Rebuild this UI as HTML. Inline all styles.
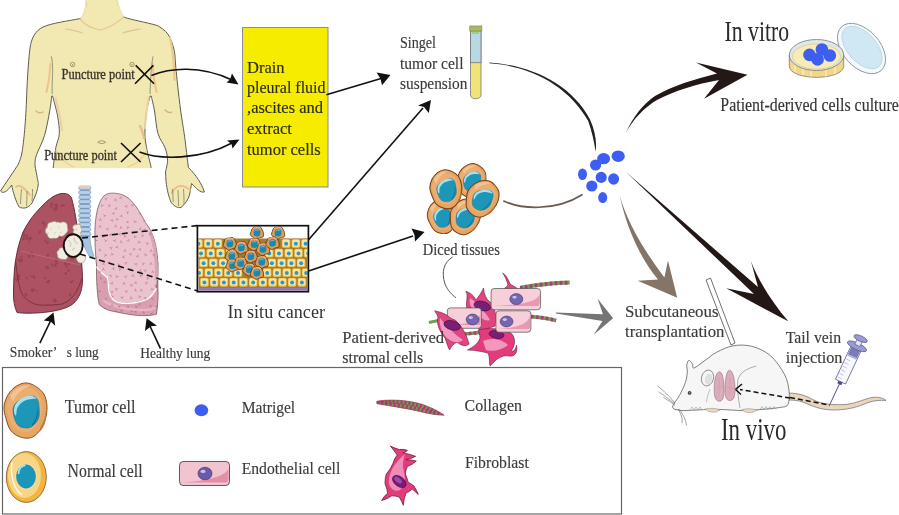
<!DOCTYPE html>
<html><head><meta charset="utf-8"><style>
html,body{margin:0;padding:0;background:#fff;width:899px;height:515px;overflow:hidden}
svg{display:block;will-change:transform}
text{font-family:"Liberation Serif",serif}
g[style*="font-size"]{stroke-width:0.15px}
</style></head><body>
<svg width="899" height="515" viewBox="0 0 899 515">
<defs>
  <marker id="ah" markerWidth="10" markerHeight="10" refX="9" refY="5" orient="auto" markerUnits="userSpaceOnUse">
    <path d="M0,0 L10,5 L0,10 L3,5Z" fill="#111"/>
  </marker>

  <g id="tcell">
    <path d="M0,-26.6 C3.3,-26.5 6.8,-25 9.7,-23.1 C12.7,-21.3 16,-18.7 17.9,-15.4 C19.8,-12.1 20.7,-7.3 21,-3.2 C21.2,0.9 20.6,5.3 19.5,9.2 C18.4,13.1 16.8,17.2 14.4,20.3 C12.1,23.4 8.9,26.8 5.5,28 C2.2,29.2 -2,28.8 -5.5,27.6 C-8.9,26.5 -12.7,24.2 -15.1,21.2 C-17.5,18.2 -18.8,13.5 -19.9,9.4 C-21.1,5.3 -22.4,0.8 -22,-3.3 C-21.6,-7.4 -19.7,-11.8 -17.7,-15.2 C-15.6,-18.5 -12.8,-21.4 -9.8,-23.3 C-6.9,-25.2 -3.3,-26.6 0,-26.6Z" fill="#e7a463" stroke="#7a4418"/>
    <path d="M-1,-22.8 C1.7,-22.7 4.5,-21.5 7,-20 C9.4,-18.4 12.2,-16.3 13.7,-13.6 C15.2,-10.9 16,-7 16.2,-3.6 C16.4,-0.2 15.9,3.3 15,6.6 C14.1,9.8 12.8,13.1 10.8,15.6 C8.9,18.2 6.3,21 3.5,22 C0.8,23 -2.7,22.6 -5.5,21.7 C-8.3,20.7 -11.4,18.9 -13.4,16.4 C-15.4,13.9 -16.4,10.1 -17.3,6.7 C-18.3,3.4 -19.3,-0.4 -19,-3.7 C-18.7,-7.1 -17.1,-10.7 -15.5,-13.4 C-13.8,-16.2 -11.5,-18.6 -9.1,-20.1 C-6.7,-21.7 -3.7,-22.8 -1,-22.8Z" fill="#eaae72"/>
    <path d="M-16,-14 C-12,-21 -4,-25 4,-24 C-4,-20 -10,-16 -13,-8Z" fill="#f4c89a" opacity="0.8"/>
    <path d="M14,18 C18,12 20,6 19,0 C21,8 20,16 14,22Z" fill="#c0783a" opacity="0.7"/>
    <path d="M-5.6,-9.5 C-3,-10.7 2.4,-13.4 5.3,-13.5 C8.2,-13.6 10.2,-12.2 11.5,-10 C12.8,-7.8 13,-3.7 13.2,-0.5 C13.4,2.7 13.6,6.2 12.5,9 C11.4,11.8 8.7,14.9 6.6,16.5 C4.5,18.1 2.1,18.6 -0.2,18.5 C-2.6,18.4 -5.6,17.8 -7.5,16.2 C-9.4,14.6 -10.6,11.8 -11.5,9 C-12.4,6.2 -13.2,2.1 -13,-0.5 C-12.8,-3.1 -11.2,-5 -10,-6.5 C-8.8,-8 -8.2,-8.3 -5.6,-9.5Z" fill="#1e96b8" stroke="#0d6a8a" stroke-width="0.5"/>
    <path d="M6,15 C10,11 12,3 11.5,-4 C13,4 11.5,12 6,16.5Z" fill="#0e6f90"/>
    <path d="M-10.5,-5 C-9.2,-7.2 -7,-9.5 -4.5,-11 C-2,-12.5 2,-13.8 4.5,-13.8 C7,-13.8 10.2,-11.6 10.5,-11 C10.8,-10.4 8.1,-10.9 6,-10.5 C3.9,-10.1 0.4,-9.9 -2,-8.5 C-4.4,-7.1 -7.2,-4.4 -8.5,-2 C-9.8,0.4 -9.4,5.3 -10,6 C-10.6,6.7 -11.9,3.8 -12,2 C-12.1,0.2 -11.8,-2.8 -10.5,-5Z" fill="#a8e0f0"/>
  </g>
  <g id="ycell">
    <rect x="-4.6" y="-4.6" width="9.2" height="9.2" rx="1.8" fill="#f0c24c" stroke="#8a6020" stroke-width="0.4"/>
    <rect x="-3.5" y="-3.7" width="6.8" height="6.9" rx="1.4" fill="#f9e6a6"/>
    <circle cx="0" cy="0.3" r="2" fill="#2a98d0"/>
  </g>
  <g id="scell">
    <path d="M8.1,0 C8.3,1.5 8.6,3.7 7.8,4.8 C7,5.8 4.6,5.8 3.1,6.3 C1.6,6.9 0.2,8.2 -1.2,8.1 C-2.6,8 -4,6.7 -5.2,5.7 C-6.5,4.8 -8.3,3.7 -8.7,2.4 C-9.1,1.1 -8,-0.6 -7.5,-2.1 C-7,-3.5 -6.8,-5.4 -5.7,-6.3 C-4.7,-7.2 -2.7,-7.1 -1.1,-7.3 C0.5,-7.6 2.5,-8.3 3.7,-7.8 C5,-7.2 5.8,-5.3 6.5,-4 C7.3,-2.7 7.9,-1.5 8.1,0Z" fill="#dd9c5a" stroke="#5a3010" stroke-width="1"/>
    <path d="M-5.5,-5.5 C-2,-7.5 2,-7.5 5,-5.5" fill="none" stroke="#f0c090" stroke-width="1.2"/>
    <path d="M-3.5,-4 C-2.8,-4.8 -1.2,-4.9 0,-4.8 C1.2,-4.7 2.8,-4.3 3.5,-3.5 C4.2,-2.7 4.3,-1.2 4.2,0 C4.1,1.2 3.7,2.8 3,3.5 C2.3,4.2 1.1,4.5 0,4.5 C-1.1,4.5 -2.8,4.5 -3.5,3.8 C-4.2,3 -4.5,1.3 -4.5,0 C-4.5,-1.3 -4.2,-3.2 -3.5,-4Z" fill="#1a88b0"/>
    <path d="M-3.2,-2.2 C-2,-3.6 0.5,-3.9 2,-3" fill="none" stroke="#a8e0f0" stroke-width="0.8"/>
  </g>
  <g id="endo">
    <rect x="-25" y="-10.5" width="50" height="21" rx="3.5" fill="#f2c4cf" stroke="#444" stroke-width="0.8"/>
    <path d="M-23,8 L22,8 C23.5,8 24,6 24,4 L24,-6 C24,-3 22,5 -23,8Z" fill="#e48ea8"/>
    <ellipse cx="0.5" cy="0" rx="7" ry="5.5" fill="#6b5aa8" stroke="#3a3070" stroke-width="0.6"/>
    <ellipse cx="-1.5" cy="-1.8" rx="2.5" ry="1.4" fill="#c8c0ee"/>
  </g>
  <g id="fibro">
    <path d="M-9.6,-29.9 Q-4.4,-27.4 -0.7,-26.5 Q2.5,-27.0 7.4,-25.8 Q6.1,-23.7 3.3,-23.1 Q8.7,-22.2 15.6,-19.7 Q11.6,-17.2 6.0,-16.3 Q10.4,-16.5 16.3,-15.0 Q12.6,-11.4 7.4,-9.5 Q5.6,-6.5 5.4,-2.0 Q7.5,2.9 8.1,6.2 Q10.3,7.3 14.0,10.0 Q17.0,15.0 18.3,18.4 Q14.4,14.9 12.2,13.0 Q9.9,15.8 6.0,17.0 Q3.9,22.4 3.3,29.3 Q2.1,26.0 -0.7,21.1 Q-5.2,19.7 -8.2,19.8 Q-12.5,23.0 -18.4,24.5 Q-16.1,20.0 -12.3,17.1 Q-12.9,13.1 -15.0,7.5 Q-15.1,1.9 -13.7,-2.0 Q-9.5,-6.6 -6.9,-12.9 Q-5.6,-17.7 -2.8,-21.0 Q-5.4,-24.6 -9.6,-29.9Z" fill="#e23c7c" stroke="#5a1030" stroke-width="0.7" stroke-linejoin="round"/>
    <path d="M-11,8 C-12,0 -8,-8 -3,-14 C0,-18 3,-20 5,-22 C3,-16 2,-10 4,-4 C6,4 4,10 0,14 C-4,16 -9,14 -11,8Z" fill="#f4a0c4" opacity="0.8"/>
    <ellipse cx="-0.7" cy="5.5" rx="7.8" ry="4.8" transform="rotate(38 -0.7 5.5)" fill="#7a1a7a" stroke="#3a0840" stroke-width="0.6"/>
    <ellipse cx="-2" cy="4" rx="4.5" ry="2.2" transform="rotate(38 -2 4)" fill="#a85ab0" opacity="0.8"/>
  </g>
  <g id="collagen">
    <path d="M0,-1 C12,-3 30,-2.5 45,2 C55,5.5 62,9 67.4,13 C60,13 52,11.5 44,9.5 C30,6 14,4 0,1.5Z" fill="#6aa048" stroke="#8a2a60" stroke-width="0.6"/>
    <path d="M0,-1 C12,-3 30,-2.5 45,2 C55,5.5 62,9 67.4,13 C60,13 52,11.5 44,9.5 C30,6 14,4 0,1.5Z" fill="none" stroke="#b83070" stroke-width="8" stroke-dasharray="1.8,2.2" clip-path="url(#colclip)"/>
  </g>
  <clipPath id="colclip"><path d="M0,-1 C12,-3 30,-2.5 45,2 C55,5.5 62,9 67.4,13 C60,13 52,11.5 44,9.5 C30,6 14,4 0,1.5Z"/></clipPath>
  <clipPath id="insitu"><rect x="198.3" y="226.6" width="109.3" height="64.2"/></clipPath>
</defs>

<!-- ===== BODY ===== -->
<g id="body" fill="#f2e8b2" stroke="#5e5e4e" stroke-width="1" stroke-linejoin="round">
 <path d="M86.5,-1 C86,8 84.5,15 80.5,18.5 C68,21 52,23 43,27 C35,31 31.5,38 30,48 C28,65 27,85 26.5,100 C25.5,125 23.5,145 21.5,155 C19.5,162 18,165 16.5,167 C12,174 5,184 0.5,191 C3,194 7,192 11.7,185 C13,192 16,202 19.2,207 C23,209 28,208.5 32,203 C35,197 38,190 38.4,183.5 C38,181.4 36.6,174.3 36,171 C35.4,167.7 34.9,166.1 35,163.4 C35.1,160.7 35,159.3 36.6,154.7 C38.2,150 42.3,142.8 44.5,135.5 C46.7,128.2 48.5,117.6 49.7,111 C50.9,104.4 51.4,98.5 51.8,96 L52.6,96 C53.4,99.4 56.5,109.9 57.6,116.2 C58.7,122.5 59.6,128.4 59.3,133.7 C59,138.9 56.8,142.1 55.8,147.7 C54.8,153.3 53.6,164.2 53.2,167.5 L151.2,167.5 C150.4,164.2 147.6,153.3 146.6,147.7 C145.6,142.1 144.9,139.8 144.9,133.7 C144.9,127.6 145.7,117.3 146.6,111 C147.5,104.7 149.6,98.5 150.2,96 L151.2,96 C151.8,98.5 153.4,104.7 154.5,111 C155.6,117.3 156.2,127.6 158,133.7 C159.8,139.8 163.4,143.3 165,147.7 C166.6,152.1 167.5,155.9 167.6,160 C167.7,164.1 165.8,170 165.5,172 C165.5,175 166,178 166,181.3 C167,190 169,198 171.3,202.7 C175,207 178,208 181,207.5 C185,204 188,200 189.5,195.2 C190.5,190 191,186 191.6,183.5 C196,188 200,193 204.4,192 C202,184 196,175 188.4,167.5 C188,164.2 186.7,153.3 186,147.7 C185.3,142.1 185.1,139.8 184.2,133.7 C183.3,127.6 181.8,119.1 180.7,111 C179.6,102.9 178.4,92.3 177.6,85 C176.8,77.7 176.4,73.2 175.8,67.4 C175.2,61.6 175.4,55.5 174.1,50 C172.8,44.5 170.7,38.3 168,34.2 C165.3,30.1 159.4,27 157.7,25.6 C145,22 132,20 123.5,17 C120,12 118,6 117,-1 Z"/>
</g>


<path d="M54,167.5 L150.5,167.5" stroke="#f2e8b2" stroke-width="1.6"/>
<path d="M86.2,-1 C86,8 84.5,15 80.8,18.3 M117.3,-1 C118,6 120,12 123.2,16.8" fill="none" stroke="#f2e8b2" stroke-width="1.8"/>
<!-- body details -->
<g fill="none" stroke="#d8b888" stroke-width="1.2" stroke-linecap="round">
 <path d="M50.5,64 C50,74 48.5,84 46.5,92" stroke="#ebc48c" stroke-width="2"/>
 <path d="M152.5,64 C153,74 154.5,84 156.5,92" stroke="#ebc48c" stroke-width="2"/>
 <path d="M66,29 C72,30 78,31 82,33" stroke="#e0c090"/>
 <path d="M123,33 C128,31 135,30 140,29" stroke="#e0c090"/>
 <path d="M80,19 C86,27 95,29 100,30 C106,29 114,25 123.5,17.5" stroke="#e8cc98" stroke-width="1.5"/>
 <path d="M36,111 C38,113 41,113 43,112" stroke="#d8b080"/>
 <path d="M56,150 C60,158 66,164 74,167" stroke="#e8cc98" stroke-width="1.2"/>
 <path d="M147,150 C143,158 137,164 128,167" stroke="#e8cc98" stroke-width="1.2"/>
 <path d="M55.5,98 C58,108 61,120 62,130" stroke="#ecd0a0" stroke-width="2"/>
 <path d="M148.5,98 C147,108 145.5,118 145,128" stroke="#ecd0a0" stroke-width="2"/>
 <path d="M140,126 C142,130 143,134 144,138" stroke="#e6bb88" stroke-width="2.2"/>
 <path d="M165,110 C167,112 170,113 172,112" stroke="#d8b080"/>
 <path d="M170,38 C173,50 174,62 174.5,80" stroke="#ebc890" stroke-width="2.2"/>
 <path d="M172,193 C175,186 182,183 190,190" stroke="#e8c090" stroke-width="2"/>
 <path d="M16,187 C20,183 26,190 30,195" stroke="#e8c090" stroke-width="2"/>
</g>
<g fill="none" stroke="#8a7050" stroke-width="0.7">
 <circle cx="72.6" cy="64.5" r="2.2"/><circle cx="132" cy="64.5" r="2.2"/>
 <path d="M97.8,142.3 C99.8,140.3 103.6,140.3 105.6,142.3 C103.6,143.8 99.8,143.8 97.8,142.3Z"/>
</g>
<g fill="#7a5a3a"><circle cx="72.6" cy="64.8" r="0.6"/><circle cx="132" cy="64.8" r="0.6"/></g>
<g fill="none" stroke="#707062" stroke-width="0.7">
 <path d="M51.2,56.3 C52.5,60 53,70 52.3,80 C52,86 52.2,90 52.2,94"/>
 <path d="M153.1,56.3 C151.8,62 151,72 150.6,80 C150.3,86 150,90 150,94"/>
 <path d="M21.5,189 C21,195 20.5,200 20.5,204 M27,191 C27,197 26.8,202 26.5,206 M32.5,189 C32.5,194 32.3,198 32,201"/>
 <path d="M172.5,189 C173,195 173,199 173.2,202 M178,190 C178.3,196 178.5,201 178.6,206 M183.5,189 C184,195 184,200 184,204"/>
</g>
<!-- X marks -->
<g stroke="#111" stroke-width="1.6" stroke-linecap="butt">
 <path d="M135.7,65.4 L154,83.8 M135,83.8 L153.4,65.4"/>
 <path d="M121,143 L140.6,162 M121,162 L140.6,143"/>
</g>
<g style="font-size:14.8px;stroke-width:0.35px" fill="#38342a" stroke="#38342a">
 <text x="61.6" y="78.5" textLength="73" lengthAdjust="spacingAndGlyphs">Puncture point</text>
 <text x="44.2" y="160.1" textLength="72.8" lengthAdjust="spacingAndGlyphs">Puncture point</text>
</g>
<!-- arrows body -> box -->
<g fill="none" stroke="#111" stroke-width="1.6">
 <path d="M151.4,75.6 C170,68 200,65 232,80"/>
 <path d="M139.5,152 C160,160 200,160 232,143"/>
</g>
<g fill="#111">
 <path d="M238.5,84.5 L226.5,82.5 L230,79.5 L232,73.5Z"/>
 <path d="M239.5,139.5 L232.5,148.5 L231.5,144 L227,140.5Z"/>
</g>


<!-- ===== LUNGS ===== -->
<!-- trachea -->
<g>
 <path d="M80,236 C82,244 86,250 90,258 L94,256 C91,248 90,242 90,236Z" fill="#a8c4e0" stroke="#6a88a8" stroke-width="0.5"/>
 <rect x="80" y="187" width="9.5" height="50" fill="#7f9fbf"/>
 <g fill="#b4d0ec" stroke="#6a88a8" stroke-width="0.5"><rect x="78.6" y="186.0" width="12.3" height="3.8" rx="1.9"/><rect x="78.6" y="190.6" width="12.3" height="3.8" rx="1.9"/><rect x="78.6" y="195.2" width="12.3" height="3.8" rx="1.9"/><rect x="78.6" y="199.8" width="12.3" height="3.8" rx="1.9"/><rect x="78.6" y="204.4" width="12.3" height="3.8" rx="1.9"/><rect x="78.6" y="209.0" width="12.3" height="3.8" rx="1.9"/><rect x="78.6" y="213.6" width="12.3" height="3.8" rx="1.9"/><rect x="78.6" y="218.2" width="12.3" height="3.8" rx="1.9"/><rect x="78.6" y="222.8" width="12.3" height="3.8" rx="1.9"/><rect x="78.6" y="227.4" width="12.3" height="3.8" rx="1.9"/><rect x="78.6" y="232.0" width="12.3" height="3.8" rx="1.9"/></g>
 <rect x="79" y="186" width="11.5" height="2.2" rx="1" fill="#e6cdb0"/>
</g>
<!-- smoker lung -->
<path d="M62,193.5 C67,193 70,195 71.5,198 C75,210 77,225 79,240 C81,255 82.5,268 82.5,281 C82,292 79,298 73.9,303 C68,309 50,313 30,313.2 C24,313.2 20,313 17,312.5 C14.5,307 13.3,300 13.5,295 C13.5,283 14,272 15.2,263 C17,250 20,240 23.1,232 C29,220 36,212 43,205 C50,198 56,194 62,193.5Z" fill="#ad5262" stroke="#5a2030" stroke-width="0.9"/>
<clipPath id="slung"><path d="M62,193.5 C67,193 70,195 71.5,198 C75,210 77,225 79,240 C81,255 82.5,268 82.5,281 C82,292 79,298 73.9,303 C68,309 50,313 30,313.2 C24,313.2 20,313 17,312.5 C14.5,307 13.3,300 13.5,295 C13.5,283 14,272 15.2,263 C17,250 20,240 23.1,232 C29,220 36,212 43,205 C50,198 56,194 62,193.5Z"/></clipPath>
<g clip-path="url(#slung)" fill="#923c4c" opacity="0.65"><ellipse cx="33.9" cy="277.0" rx="2.0" ry="1.2" transform="rotate(47 33.9 277.0)"/><ellipse cx="31.2" cy="276.3" rx="1.0" ry="0.9" transform="rotate(110 31.2 276.3)"/><ellipse cx="26.8" cy="277.7" rx="0.8" ry="1.4" transform="rotate(67 26.8 277.7)"/><ellipse cx="72.0" cy="281.7" rx="2.0" ry="1.1" transform="rotate(140 72.0 281.7)"/><ellipse cx="70.9" cy="282.5" rx="1.2" ry="1.0" transform="rotate(80 70.9 282.5)"/><ellipse cx="60.2" cy="237.7" rx="1.8" ry="0.7" transform="rotate(173 60.2 237.7)"/><ellipse cx="60.4" cy="237.6" rx="1.1" ry="0.8" transform="rotate(91 60.4 237.6)"/><ellipse cx="58.0" cy="237.2" rx="1.6" ry="1.0" transform="rotate(33 58.0 237.2)"/><ellipse cx="56.0" cy="261.7" rx="0.9" ry="1.0" transform="rotate(161 56.0 261.7)"/><ellipse cx="56.4" cy="260.2" rx="1.8" ry="1.5" transform="rotate(11 56.4 260.2)"/><ellipse cx="31.5" cy="253.1" rx="1.3" ry="1.5" transform="rotate(89 31.5 253.1)"/><ellipse cx="29.4" cy="256.5" rx="1.3" ry="1.3" transform="rotate(35 29.4 256.5)"/><ellipse cx="32.9" cy="255.8" rx="1.1" ry="1.1" transform="rotate(158 32.9 255.8)"/><ellipse cx="28.6" cy="255.8" rx="0.8" ry="1.2" transform="rotate(145 28.6 255.8)"/><ellipse cx="40.0" cy="231.9" rx="2.1" ry="0.8" transform="rotate(109 40.0 231.9)"/><ellipse cx="39.2" cy="231.9" rx="1.5" ry="0.6" transform="rotate(112 39.2 231.9)"/><ellipse cx="68.6" cy="270.6" rx="1.3" ry="1.5" transform="rotate(144 68.6 270.6)"/><ellipse cx="55.5" cy="208.6" rx="0.8" ry="0.9" transform="rotate(39 55.5 208.6)"/><ellipse cx="55.4" cy="209.2" rx="1.5" ry="1.1" transform="rotate(171 55.4 209.2)"/><ellipse cx="54.0" cy="208.3" rx="1.3" ry="1.3" transform="rotate(40 54.0 208.3)"/><ellipse cx="56.6" cy="205.6" rx="1.7" ry="1.4" transform="rotate(66 56.6 205.6)"/><ellipse cx="44.5" cy="224.5" rx="1.7" ry="1.0" transform="rotate(81 44.5 224.5)"/><ellipse cx="43.5" cy="222.8" rx="1.8" ry="1.2" transform="rotate(1 43.5 222.8)"/><ellipse cx="59.0" cy="233.2" rx="1.2" ry="0.9" transform="rotate(111 59.0 233.2)"/><ellipse cx="61.4" cy="231.2" rx="0.8" ry="1.0" transform="rotate(40 61.4 231.2)"/><ellipse cx="57.7" cy="231.9" rx="1.3" ry="0.6" transform="rotate(32 57.7 231.9)"/><ellipse cx="57.1" cy="232.9" rx="1.6" ry="1.2" transform="rotate(111 57.1 232.9)"/><ellipse cx="21.2" cy="256.7" rx="0.9" ry="1.5" transform="rotate(32 21.2 256.7)"/><ellipse cx="20.9" cy="261.0" rx="2.1" ry="1.3" transform="rotate(22 20.9 261.0)"/><ellipse cx="46.4" cy="242.0" rx="0.8" ry="0.8" transform="rotate(61 46.4 242.0)"/><ellipse cx="47.7" cy="242.5" rx="1.4" ry="1.2" transform="rotate(158 47.7 242.5)"/><ellipse cx="45.4" cy="240.6" rx="0.8" ry="1.2" transform="rotate(136 45.4 240.6)"/><ellipse cx="65.2" cy="242.6" rx="1.1" ry="0.7" transform="rotate(13 65.2 242.6)"/><ellipse cx="68.3" cy="238.6" rx="0.7" ry="1.1" transform="rotate(69 68.3 238.6)"/><ellipse cx="68.0" cy="242.8" rx="1.9" ry="1.0" transform="rotate(159 68.0 242.8)"/><ellipse cx="68.6" cy="241.1" rx="1.8" ry="1.5" transform="rotate(10 68.6 241.1)"/><ellipse cx="23.1" cy="232.0" rx="1.9" ry="1.1" transform="rotate(0 23.1 232.0)"/><ellipse cx="23.4" cy="233.3" rx="1.1" ry="0.8" transform="rotate(63 23.4 233.3)"/><ellipse cx="25.5" cy="235.4" rx="1.3" ry="0.8" transform="rotate(123 25.5 235.4)"/><ellipse cx="22.8" cy="231.4" rx="1.6" ry="1.6" transform="rotate(118 22.8 231.4)"/><ellipse cx="30.5" cy="238.5" rx="2.1" ry="1.1" transform="rotate(128 30.5 238.5)"/><ellipse cx="27.2" cy="238.8" rx="1.6" ry="0.9" transform="rotate(127 27.2 238.8)"/><ellipse cx="29.2" cy="241.9" rx="0.8" ry="1.3" transform="rotate(166 29.2 241.9)"/><ellipse cx="29.8" cy="238.5" rx="1.5" ry="1.4" transform="rotate(174 29.8 238.5)"/><ellipse cx="26.2" cy="294.9" rx="1.3" ry="1.4" transform="rotate(57 26.2 294.9)"/><ellipse cx="25.4" cy="294.3" rx="1.1" ry="1.1" transform="rotate(2 25.4 294.3)"/><ellipse cx="54.5" cy="300.2" rx="1.5" ry="1.6" transform="rotate(60 54.5 300.2)"/><ellipse cx="55.8" cy="300.9" rx="0.9" ry="1.5" transform="rotate(119 55.8 300.9)"/><ellipse cx="55.3" cy="301.3" rx="1.7" ry="1.3" transform="rotate(170 55.3 301.3)"/><ellipse cx="32.8" cy="207.0" rx="0.9" ry="1.1" transform="rotate(36 32.8 207.0)"/><ellipse cx="35.3" cy="208.6" rx="1.9" ry="1.5" transform="rotate(97 35.3 208.6)"/><ellipse cx="52.0" cy="264.9" rx="1.5" ry="0.9" transform="rotate(97 52.0 264.9)"/><ellipse cx="55.0" cy="265.2" rx="1.7" ry="1.0" transform="rotate(19 55.0 265.2)"/><ellipse cx="55.5" cy="265.3" rx="1.2" ry="1.5" transform="rotate(6 55.5 265.3)"/><ellipse cx="56.6" cy="262.8" rx="1.3" ry="1.2" transform="rotate(15 56.6 262.8)"/><ellipse cx="21.4" cy="225.0" rx="2.0" ry="1.1" transform="rotate(110 21.4 225.0)"/><ellipse cx="23.4" cy="221.5" rx="1.0" ry="1.6" transform="rotate(22 23.4 221.5)"/><ellipse cx="65.7" cy="273.4" rx="1.2" ry="1.6" transform="rotate(40 65.7 273.4)"/><ellipse cx="61.8" cy="206.0" rx="1.0" ry="1.4" transform="rotate(104 61.8 206.0)"/><ellipse cx="63.1" cy="205.1" rx="2.0" ry="0.8" transform="rotate(13 63.1 205.1)"/><ellipse cx="37.0" cy="205.3" rx="1.2" ry="0.9" transform="rotate(67 37.0 205.3)"/><ellipse cx="37.9" cy="204.3" rx="1.5" ry="1.5" transform="rotate(71 37.9 204.3)"/><ellipse cx="63.4" cy="223.9" rx="2.1" ry="0.9" transform="rotate(56 63.4 223.9)"/><ellipse cx="56.9" cy="207.4" rx="1.8" ry="1.2" transform="rotate(107 56.9 207.4)"/><ellipse cx="55.4" cy="209.3" rx="1.4" ry="1.4" transform="rotate(31 55.4 209.3)"/><ellipse cx="54.7" cy="211.4" rx="0.8" ry="0.7" transform="rotate(68 54.7 211.4)"/><ellipse cx="57.0" cy="209.0" rx="0.9" ry="0.6" transform="rotate(133 57.0 209.0)"/><ellipse cx="27.3" cy="235.3" rx="1.2" ry="1.4" transform="rotate(49 27.3 235.3)"/><ellipse cx="23.3" cy="238.9" rx="1.5" ry="1.2" transform="rotate(14 23.3 238.9)"/><ellipse cx="26.8" cy="238.2" rx="1.9" ry="1.1" transform="rotate(141 26.8 238.2)"/><ellipse cx="23.8" cy="235.9" rx="2.1" ry="1.4" transform="rotate(101 23.8 235.9)"/><ellipse cx="67.6" cy="234.7" rx="1.1" ry="0.8" transform="rotate(152 67.6 234.7)"/><ellipse cx="69.4" cy="234.5" rx="1.4" ry="0.7" transform="rotate(131 69.4 234.5)"/><ellipse cx="69.2" cy="238.0" rx="2.0" ry="1.2" transform="rotate(142 69.2 238.0)"/><ellipse cx="69.2" cy="234.4" rx="2.2" ry="0.6" transform="rotate(69 69.2 234.4)"/><ellipse cx="73.8" cy="204.9" rx="1.3" ry="1.2" transform="rotate(112 73.8 204.9)"/><ellipse cx="76.7" cy="202.5" rx="1.6" ry="0.7" transform="rotate(103 76.7 202.5)"/><ellipse cx="74.0" cy="203.7" rx="1.0" ry="1.5" transform="rotate(52 74.0 203.7)"/><ellipse cx="18.7" cy="278.6" rx="1.3" ry="1.5" transform="rotate(129 18.7 278.6)"/><ellipse cx="16.7" cy="280.0" rx="0.8" ry="1.6" transform="rotate(150 16.7 280.0)"/><ellipse cx="19.2" cy="275.6" rx="1.5" ry="1.3" transform="rotate(3 19.2 275.6)"/><ellipse cx="16.4" cy="279.2" rx="1.7" ry="0.8" transform="rotate(29 16.4 279.2)"/><ellipse cx="17.6" cy="275.7" rx="1.9" ry="0.8" transform="rotate(127 17.6 275.7)"/><ellipse cx="17.9" cy="276.2" rx="0.9" ry="1.4" transform="rotate(4 17.9 276.2)"/><ellipse cx="28.7" cy="207.9" rx="1.7" ry="1.1" transform="rotate(154 28.7 207.9)"/><ellipse cx="28.8" cy="203.4" rx="1.9" ry="0.7" transform="rotate(152 28.8 203.4)"/><ellipse cx="18.8" cy="260.2" rx="1.8" ry="1.0" transform="rotate(52 18.8 260.2)"/><ellipse cx="21.4" cy="260.0" rx="1.7" ry="1.6" transform="rotate(36 21.4 260.0)"/><ellipse cx="47.5" cy="268.1" rx="1.6" ry="1.5" transform="rotate(179 47.5 268.1)"/><ellipse cx="46.6" cy="266.8" rx="0.8" ry="1.3" transform="rotate(131 46.6 266.8)"/><ellipse cx="68.3" cy="242.6" rx="1.4" ry="1.4" transform="rotate(27 68.3 242.6)"/><ellipse cx="70.9" cy="243.3" rx="1.8" ry="1.4" transform="rotate(47 70.9 243.3)"/><ellipse cx="68.4" cy="244.7" rx="1.4" ry="0.8" transform="rotate(70 68.4 244.7)"/><ellipse cx="70.1" cy="245.6" rx="1.8" ry="1.5" transform="rotate(169 70.1 245.6)"/><ellipse cx="66.7" cy="266.6" rx="0.7" ry="1.0" transform="rotate(25 66.7 266.6)"/><ellipse cx="65.8" cy="266.0" rx="1.4" ry="0.7" transform="rotate(19 65.8 266.0)"/><ellipse cx="65.6" cy="263.5" rx="1.6" ry="1.3" transform="rotate(45 65.6 263.5)"/><ellipse cx="68.8" cy="264.1" rx="1.6" ry="1.2" transform="rotate(0 68.8 264.1)"/><ellipse cx="47.1" cy="282.0" rx="0.8" ry="1.0" transform="rotate(104 47.1 282.0)"/><ellipse cx="48.6" cy="281.5" rx="1.6" ry="1.6" transform="rotate(39 48.6 281.5)"/><ellipse cx="44.9" cy="277.9" rx="1.3" ry="0.9" transform="rotate(126 44.9 277.9)"/><ellipse cx="36.4" cy="290.6" rx="0.9" ry="1.1" transform="rotate(77 36.4 290.6)"/><ellipse cx="32.6" cy="289.6" rx="2.2" ry="1.1" transform="rotate(174 32.6 289.6)"/><ellipse cx="32.6" cy="290.7" rx="1.4" ry="0.9" transform="rotate(164 32.6 290.7)"/><ellipse cx="32.9" cy="291.2" rx="1.7" ry="0.6" transform="rotate(120 32.9 291.2)"/><ellipse cx="15.1" cy="215.9" rx="1.9" ry="1.4" transform="rotate(0 15.1 215.9)"/><ellipse cx="19.4" cy="215.1" rx="2.1" ry="0.7" transform="rotate(39 19.4 215.1)"/><ellipse cx="15.7" cy="216.2" rx="2.0" ry="1.0" transform="rotate(76 15.7 216.2)"/><ellipse cx="70.8" cy="255.8" rx="1.0" ry="0.8" transform="rotate(72 70.8 255.8)"/><ellipse cx="72.5" cy="258.7" rx="1.9" ry="1.4" transform="rotate(161 72.5 258.7)"/><ellipse cx="36.2" cy="198.4" rx="2.1" ry="1.2" transform="rotate(61 36.2 198.4)"/><ellipse cx="33.1" cy="199.2" rx="1.3" ry="1.4" transform="rotate(80 33.1 199.2)"/><ellipse cx="51.9" cy="204.0" rx="1.4" ry="1.1" transform="rotate(62 51.9 204.0)"/><ellipse cx="51.0" cy="203.9" rx="1.2" ry="0.8" transform="rotate(23 51.0 203.9)"/><ellipse cx="55.3" cy="204.6" rx="1.1" ry="1.2" transform="rotate(81 55.3 204.6)"/><ellipse cx="51.1" cy="206.3" rx="2.1" ry="1.1" transform="rotate(107 51.1 206.3)"/><ellipse cx="41.6" cy="205.4" rx="1.9" ry="1.0" transform="rotate(139 41.6 205.4)"/><ellipse cx="39.4" cy="204.8" rx="2.0" ry="1.0" transform="rotate(157 39.4 204.8)"/><ellipse cx="39.1" cy="205.8" rx="1.3" ry="1.5" transform="rotate(132 39.1 205.8)"/><ellipse cx="41.0" cy="204.9" rx="1.7" ry="1.6" transform="rotate(101 41.0 204.9)"/><ellipse cx="70.2" cy="294.6" rx="1.7" ry="1.2" transform="rotate(104 70.2 294.6)"/><ellipse cx="47.8" cy="255.1" rx="1.1" ry="1.3" transform="rotate(1 47.8 255.1)"/><ellipse cx="47.6" cy="255.7" rx="1.1" ry="1.4" transform="rotate(46 47.6 255.7)"/></g>
<g fill="none" stroke="#c07080" stroke-width="0.8">
 <path d="M21.4,251 C40,256 60,260 79.9,265"/>
 <path d="M15.8,262 C17,275 19,287 21.6,293.4 C26,300 32,304 39.1,305 C47,305.5 55,305 62.4,303.9 C68,302 72,298 75.2,293.4 C78,289 80,284 81.5,279" stroke="#6a2535" stroke-width="0.7"/>
</g>

<!-- tumor white blobs -->
<g>
<g fill="#f0ede0" stroke="#a8a088" stroke-width="0.9"><circle cx="63.6" cy="229.4" r="4.1"/><circle cx="62.7" cy="231.3" r="3.7"/><circle cx="61.3" cy="232.5" r="3.8"/><circle cx="56.6" cy="232.7" r="3.4"/><circle cx="55.5" cy="234.5" r="3.8"/><circle cx="51.6" cy="234.3" r="4.2"/><circle cx="48.7" cy="231.2" r="3.2"/><circle cx="48.7" cy="230.3" r="3.1"/><circle cx="50.1" cy="228.3" r="3.0"/><circle cx="51.5" cy="226.3" r="4.0"/><circle cx="54.3" cy="225.0" r="3.6"/><circle cx="58.0" cy="225.5" r="3.3"/><circle cx="63.3" cy="226.0" r="4.0"/><circle cx="62.1" cy="228.1" r="3.3"/><circle cx="56.0" cy="229.5" r="5.5"/><circle cx="78.8" cy="229.8" r="3.0"/><circle cx="78.2" cy="234.4" r="2.8"/><circle cx="75.7" cy="232.0" r="2.5"/><circle cx="75.7" cy="227.6" r="2.8"/><circle cx="78.3" cy="226.8" r="2.6"/><circle cx="77.5" cy="230.0" r="2.2"/><circle cx="65.6" cy="254.2" r="2.7"/><circle cx="64.3" cy="256.1" r="3.4"/><circle cx="61.8" cy="256.6" r="2.6"/><circle cx="60.8" cy="255.5" r="3.2"/><circle cx="59.8" cy="252.9" r="2.8"/><circle cx="61.5" cy="250.3" r="2.5"/><circle cx="63.9" cy="252.0" r="2.8"/><circle cx="62.5" cy="254.0" r="3.5"/><circle cx="82.7" cy="258.3" r="3.0"/><circle cx="81.7" cy="259.9" r="2.9"/><circle cx="80.3" cy="260.0" r="2.9"/><circle cx="79.5" cy="258.4" r="3.0"/><circle cx="80.0" cy="257.3" r="2.8"/><circle cx="81.8" cy="257.1" r="2.3"/><circle cx="81.0" cy="258.5" r="2.2"/></g>
<g fill="#f0ede0"><circle cx="63.6" cy="229.4" r="3.7"/><circle cx="62.7" cy="231.3" r="3.3"/><circle cx="61.3" cy="232.5" r="3.3"/><circle cx="56.6" cy="232.7" r="2.9"/><circle cx="55.5" cy="234.5" r="3.4"/><circle cx="51.6" cy="234.3" r="3.7"/><circle cx="48.7" cy="231.2" r="2.7"/><circle cx="48.7" cy="230.3" r="2.6"/><circle cx="50.1" cy="228.3" r="2.6"/><circle cx="51.5" cy="226.3" r="3.6"/><circle cx="54.3" cy="225.0" r="3.1"/><circle cx="58.0" cy="225.5" r="2.9"/><circle cx="63.3" cy="226.0" r="3.6"/><circle cx="62.1" cy="228.1" r="2.8"/><circle cx="56.0" cy="229.5" r="5.0"/><circle cx="78.8" cy="229.8" r="2.6"/><circle cx="78.2" cy="234.4" r="2.3"/><circle cx="75.7" cy="232.0" r="2.1"/><circle cx="75.7" cy="227.6" r="2.4"/><circle cx="78.3" cy="226.8" r="2.1"/><circle cx="77.5" cy="230.0" r="1.8"/><circle cx="65.6" cy="254.2" r="2.2"/><circle cx="64.3" cy="256.1" r="2.9"/><circle cx="61.8" cy="256.6" r="2.2"/><circle cx="60.8" cy="255.5" r="2.7"/><circle cx="59.8" cy="252.9" r="2.4"/><circle cx="61.5" cy="250.3" r="2.1"/><circle cx="63.9" cy="252.0" r="2.4"/><circle cx="62.5" cy="254.0" r="3.0"/><circle cx="82.7" cy="258.3" r="2.5"/><circle cx="81.7" cy="259.9" r="2.5"/><circle cx="80.3" cy="260.0" r="2.4"/><circle cx="79.5" cy="258.4" r="2.5"/><circle cx="80.0" cy="257.3" r="2.4"/><circle cx="81.8" cy="257.1" r="1.8"/><circle cx="81.0" cy="258.5" r="1.8"/></g>
<g stroke="#c0b8a0" stroke-width="0.5" fill="none"><path d="M50,228 l2,2 M58,226 l1.5,2.5 M62,232 l-2.5,1 M54,234 l2,-2 M76,228 l1,2.5 M47,232 l2,1"/></g>
</g>
<ellipse cx="73.2" cy="245.6" rx="9.5" ry="11.3" fill="#f0ede0" stroke="#111" stroke-width="1.9"/>
<g stroke="#a09888" stroke-width="0.5" fill="none">
 <path d="M68,240 L71,243 L70,247 M74,238 L75,242 L78,244 M72,250 L75,248"/>
</g>
<!-- healthy lung -->
<path d="M96.6,262 C96,280 97.5,298 99.3,304.7 C104,309 110,311 114.3,311.5 C125,314 135,315.5 141.5,315.6 C148,315.8 153,315.2 156.4,314.2 C158,305 158.5,295 157.8,285 L157.8,262Z" fill="#d99fb0" stroke="#6a4a55" stroke-width="0.7"/>
<path d="M103,300 C110,306 125,309 140,310 C148,310.5 153,309 156,307" fill="none" stroke="#e6b6c4" stroke-width="2.5"/>
<path d="M107.7,193.8 C100,196 96,210 95,227.9 C94.5,240 95.5,255 96.6,266.6 C99,272 104,275 107.5,277.5 C108.5,283 108.5,287 108.8,291 C110,296 112,299 114.3,300.6 C118,303 123,303.5 127.9,303.3 C135,303 142,301.5 146.9,299.3 C151,297 154,293 156.4,288.4 C157.5,280 158,272 157.8,262 C157,245 153,232 145.6,222.8 C140,212 133,200 125,196 C119,193 112,192.5 107.7,193.8Z" fill="#ebc3ce" stroke="#6a4a55" stroke-width="0.7"/>
<path d="M96.6,266.6 C99,272 104,275 107.5,277.5 C108.5,283 108.5,287 108.8,291 C110,296 112,299 114.3,300.6 C118,303 123,303.5 127.9,303.3 C135,303 142,301.5 146.9,299.3 C151,297 154,293 156.4,288.4" fill="none" stroke="#fff" stroke-width="1.3"/>
<path d="M150,232 C155,245 157,258 156.5,280" fill="none" stroke="#dca3b4" stroke-width="3"/>
<clipPath id="hlung"><path d="M107.7,193.8 C100,196 96,210 95,227.9 C94.5,240 95.5,255 96.6,266.6 C96,280 97.5,298 99.3,304.7 C104,309 110,311 114.3,311.5 C125,314 135,315.5 141.5,315.6 C148,315.8 153,315.2 156.4,314.2 C158,305 158.5,295 157.8,285 C158,272 158,262 157.8,262 C157,245 153,232 145.6,222.8 C140,212 133,200 125,196 C119,193 112,192.5 107.7,193.8Z"/></clipPath>
<g clip-path="url(#hlung)" stroke="#b5607a" stroke-width="0.6" fill="none" opacity="0.9"><path d="M96.3,200.8 l0.4,1.6 M96.3,200.8 l-1.5,-0.4 M96.3,200.8 l1.2,-1.1 M105.9,198.9 l-0.1,1.6 M105.9,198.9 l-1.3,-0.9 M105.9,198.9 l1.5,-0.7 M115.5,200.0 l0.8,1.4 M115.5,200.0 l-1.6,-0.0 M115.5,200.0 l0.8,-1.4 M120.7,198.0 l1.1,1.1 M120.7,198.0 l-1.5,0.4 M120.7,198.0 l0.4,-1.5 M130.4,198.3 l-0.1,1.6 M130.4,198.3 l-1.3,-0.9 M130.4,198.3 l1.5,-0.7 M136.7,198.9 l1.6,0.1 M136.7,198.9 l-0.9,1.3 M136.7,198.9 l-0.7,-1.5 M148.5,201.0 l-0.4,1.5 M148.5,201.0 l-1.1,-1.1 M148.5,201.0 l1.5,-0.4 M154.6,198.1 l1.2,1.0 M154.6,198.1 l-1.5,0.6 M154.6,198.1 l0.3,-1.6 M102.0,205.5 l-0.7,1.5 M102.0,205.5 l-0.9,-1.3 M102.0,205.5 l1.6,-0.2 M109.3,205.6 l-0.2,1.6 M109.3,205.6 l-1.3,-1.0 M109.3,205.6 l1.5,-0.6 M116.1,208.7 l0.9,1.3 M116.1,208.7 l-1.6,0.2 M116.1,208.7 l0.7,-1.5 M126.3,206.4 l0.8,1.4 M126.3,206.4 l-1.6,0.1 M126.3,206.4 l0.8,-1.4 M132.4,205.1 l-0.4,1.6 M132.4,205.1 l-1.2,-1.1 M132.4,205.1 l1.5,-0.4 M140.7,208.1 l1.4,0.7 M140.7,208.1 l-1.3,0.9 M140.7,208.1 l-0.1,-1.6 M152.3,208.6 l-0.0,1.6 M152.3,208.6 l-1.4,-0.8 M152.3,208.6 l1.4,-0.8 M159.3,207.3 l0.1,1.6 M159.3,207.3 l-1.4,-0.7 M159.3,207.3 l1.4,-0.9 M96.1,213.9 l-0.3,1.6 M96.1,213.9 l-1.2,-1.0 M96.1,213.9 l1.5,-0.6 M104.5,215.7 l-0.5,1.5 M104.5,215.7 l-1.1,-1.2 M104.5,215.7 l1.6,-0.4 M113.5,213.5 l0.9,1.3 M113.5,213.5 l-1.6,0.2 M113.5,213.5 l0.7,-1.5 M121.4,216.0 l1.1,1.2 M121.4,216.0 l-1.6,0.4 M121.4,216.0 l0.5,-1.5 M127.6,212.4 l0.1,1.6 M127.6,212.4 l-1.4,-0.7 M127.6,212.4 l1.3,-0.9 M140.5,214.0 l0.8,1.4 M140.5,214.0 l-1.6,0.0 M140.5,214.0 l0.8,-1.4 M146.3,215.0 l1.4,0.7 M146.3,215.0 l-1.3,0.9 M146.3,215.0 l-0.1,-1.6 M154.5,214.2 l0.4,1.5 M154.5,214.2 l-1.5,-0.4 M154.5,214.2 l1.1,-1.1 M100.4,219.7 l1.2,1.1 M100.4,219.7 l-1.5,0.5 M100.4,219.7 l0.3,-1.6 M112.1,220.4 l0.5,1.5 M112.1,220.4 l-1.6,-0.3 M112.1,220.4 l1.1,-1.2 M117.0,219.4 l1.6,0.2 M117.0,219.4 l-1.0,1.3 M117.0,219.4 l-0.6,-1.5 M127.6,222.1 l1.1,1.1 M127.6,222.1 l-1.5,0.4 M127.6,222.1 l0.4,-1.5 M134.9,221.7 l-0.5,1.5 M134.9,221.7 l-1.1,-1.2 M134.9,221.7 l1.6,-0.3 M144.3,220.6 l-0.8,1.4 M144.3,220.6 l-0.8,-1.4 M144.3,220.6 l1.6,-0.0 M152.3,221.4 l-0.4,1.5 M152.3,221.4 l-1.1,-1.2 M152.3,221.4 l1.6,-0.4 M158.0,220.5 l1.4,0.8 M158.0,220.5 l-1.4,0.8 M158.0,220.5 l-0.0,-1.6 M99.9,226.6 l1.6,0.2 M99.9,226.6 l-1.0,1.3 M99.9,226.6 l-0.6,-1.5 M107.5,229.1 l0.8,1.4 M107.5,229.1 l-1.6,0.1 M107.5,229.1 l0.8,-1.4 M115.7,226.2 l1.4,0.8 M115.7,226.2 l-1.4,0.8 M115.7,226.2 l0.0,-1.6 M120.9,227.7 l1.5,0.6 M120.9,227.7 l-1.2,1.0 M120.9,227.7 l-0.3,-1.6 M127.8,227.4 l-0.5,1.5 M127.8,227.4 l-1.1,-1.2 M127.8,227.4 l1.6,-0.3 M140.4,229.0 l0.9,1.3 M140.4,229.0 l-1.6,0.1 M140.4,229.0 l0.7,-1.4 M144.8,229.8 l0.7,1.4 M144.8,229.8 l-1.6,-0.1 M144.8,229.8 l0.9,-1.3 M155.1,226.1 l1.4,0.7 M155.1,226.1 l-1.3,0.9 M155.1,226.1 l-0.1,-1.6 M103.7,236.2 l-0.4,1.5 M103.7,236.2 l-1.1,-1.1 M103.7,236.2 l1.6,-0.4 M110.5,234.7 l0.6,1.5 M110.5,234.7 l-1.6,-0.3 M110.5,234.7 l1.0,-1.2 M119.7,234.2 l0.7,1.4 M119.7,234.2 l-1.6,-0.1 M119.7,234.2 l0.9,-1.3 M124.9,236.1 l1.6,0.0 M124.9,236.1 l-0.8,1.4 M124.9,236.1 l-0.8,-1.4 M134.9,236.8 l1.6,0.1 M134.9,236.8 l-0.9,1.3 M134.9,236.8 l-0.7,-1.4 M142.5,235.6 l-0.3,1.6 M142.5,235.6 l-1.2,-1.1 M142.5,235.6 l1.5,-0.5 M150.4,234.0 l1.1,1.2 M150.4,234.0 l-1.6,0.3 M150.4,234.0 l0.5,-1.5 M160.3,236.6 l1.5,0.4 M160.3,236.6 l-1.2,1.1 M160.3,236.6 l-0.4,-1.6 M96.0,240.4 l1.6,0.1 M96.0,240.4 l-0.9,1.3 M96.0,240.4 l-0.7,-1.4 M105.7,240.6 l-0.4,1.6 M105.7,240.6 l-1.1,-1.1 M105.7,240.6 l1.5,-0.4 M114.8,240.5 l0.7,1.4 M114.8,240.5 l-1.6,-0.1 M114.8,240.5 l0.9,-1.3 M121.1,242.0 l1.4,0.7 M121.1,242.0 l-1.3,0.9 M121.1,242.0 l-0.1,-1.6 M128.3,240.7 l1.1,1.1 M128.3,240.7 l-1.5,0.4 M128.3,240.7 l0.4,-1.5 M139.0,242.2 l1.6,0.2 M139.0,242.2 l-0.9,1.3 M139.0,242.2 l-0.7,-1.5 M147.1,243.5 l-0.1,1.6 M147.1,243.5 l-1.3,-0.9 M147.1,243.5 l1.4,-0.7 M155.5,240.0 l0.9,1.3 M155.5,240.0 l-1.6,0.1 M155.5,240.0 l0.7,-1.4 M99.8,250.1 l1.5,0.6 M99.8,250.1 l-1.2,1.0 M99.8,250.1 l-0.2,-1.6 M111.1,248.0 l0.2,1.6 M111.1,248.0 l-1.5,-0.6 M111.1,248.0 l1.3,-0.9 M117.1,247.2 l1.1,1.2 M117.1,247.2 l-1.6,0.4 M117.1,247.2 l0.5,-1.5 M125.0,250.6 l1.3,0.9 M125.0,250.6 l-1.5,0.7 M125.0,250.6 l0.2,-1.6 M134.0,249.2 l-0.6,1.5 M134.0,249.2 l-0.9,-1.3 M134.0,249.2 l1.6,-0.2 M140.0,249.4 l0.8,1.4 M140.0,249.4 l-1.6,-0.0 M140.0,249.4 l0.8,-1.4 M151.2,250.9 l1.3,1.0 M151.2,250.9 l-1.5,0.6 M151.2,250.9 l0.2,-1.6 M159.0,249.1 l0.6,1.5 M159.0,249.1 l-1.6,-0.2 M159.0,249.1 l1.0,-1.3 M95.8,257.3 l-0.7,1.4 M95.8,257.3 l-0.9,-1.3 M95.8,257.3 l1.6,-0.1 M105.3,255.3 l-0.8,1.4 M105.3,255.3 l-0.8,-1.4 M105.3,255.3 l1.6,-0.0 M112.0,254.3 l1.6,0.2 M112.0,254.3 l-1.0,1.2 M112.0,254.3 l-0.6,-1.5 M123.6,257.0 l0.9,1.3 M123.6,257.0 l-1.6,0.2 M123.6,257.0 l0.6,-1.5 M130.6,254.1 l0.4,1.6 M130.6,254.1 l-1.5,-0.5 M130.6,254.1 l1.2,-1.1 M137.7,256.1 l1.1,1.2 M137.7,256.1 l-1.6,0.4 M137.7,256.1 l0.5,-1.5 M145.5,254.9 l1.6,0.2 M145.5,254.9 l-0.9,1.3 M145.5,254.9 l-0.7,-1.5 M153.7,255.0 l0.2,1.6 M153.7,255.0 l-1.5,-0.7 M153.7,255.0 l1.3,-0.9 M103.6,263.9 l0.9,1.3 M103.6,263.9 l-1.6,0.1 M103.6,263.9 l0.7,-1.5 M108.7,262.5 l0.8,1.4 M108.7,262.5 l-1.6,0.0 M108.7,262.5 l0.8,-1.4 M118.7,264.9 l1.6,0.3 M118.7,264.9 l-1.0,1.2 M118.7,264.9 l-0.5,-1.5 M125.9,263.0 l0.1,1.6 M125.9,263.0 l-1.4,-0.7 M125.9,263.0 l1.3,-0.9 M136.0,264.1 l0.4,1.5 M136.0,264.1 l-1.5,-0.4 M136.0,264.1 l1.1,-1.1 M143.3,263.7 l-0.4,1.6 M143.3,263.7 l-1.2,-1.1 M143.3,263.7 l1.5,-0.5 M151.0,263.7 l1.4,0.8 M151.0,263.7 l-1.4,0.8 M151.0,263.7 l-0.0,-1.6 M160.1,262.5 l0.4,1.5 M160.1,262.5 l-1.6,-0.4 M160.1,262.5 l1.1,-1.2 M99.6,271.9 l-0.8,1.4 M99.6,271.9 l-0.8,-1.4 M99.6,271.9 l1.6,-0.0 M103.5,269.3 l1.3,1.0 M103.5,269.3 l-1.5,0.6 M103.5,269.3 l0.2,-1.6 M113.5,268.6 l0.6,1.5 M113.5,268.6 l-1.6,-0.2 M113.5,268.6 l0.9,-1.3 M119.9,269.2 l-0.6,1.5 M119.9,269.2 l-1.0,-1.3 M119.9,269.2 l1.6,-0.2 M131.2,269.8 l1.6,0.4 M131.2,269.8 l-1.1,1.2 M131.2,269.8 l-0.5,-1.5 M140.3,270.8 l1.5,0.7 M140.3,270.8 l-1.3,0.9 M140.3,270.8 l-0.1,-1.6 M145.2,270.6 l0.2,1.6 M145.2,270.6 l-1.5,-0.6 M145.2,270.6 l1.3,-1.0 M152.8,271.8 l1.2,1.0 M152.8,271.8 l-1.5,0.6 M152.8,271.8 l0.2,-1.6 M100.8,278.4 l1.5,0.5 M100.8,278.4 l-1.2,1.1 M100.8,278.4 l-0.3,-1.6 M110.9,275.8 l0.5,1.5 M110.9,275.8 l-1.6,-0.3 M110.9,275.8 l1.1,-1.2 M116.9,276.5 l-0.6,1.5 M116.9,276.5 l-1.0,-1.3 M116.9,276.5 l1.6,-0.2 M125.8,276.7 l0.4,1.5 M125.8,276.7 l-1.6,-0.4 M125.8,276.7 l1.1,-1.1 M132.9,275.7 l1.1,1.2 M132.9,275.7 l-1.6,0.4 M132.9,275.7 l0.4,-1.5 M140.9,275.8 l-0.7,1.4 M140.9,275.8 l-0.9,-1.3 M140.9,275.8 l1.6,-0.1 M147.7,278.2 l-0.6,1.5 M147.7,278.2 l-1.0,-1.3 M147.7,278.2 l1.6,-0.2 M159.0,275.1 l0.8,1.4 M159.0,275.1 l-1.6,-0.0 M159.0,275.1 l0.8,-1.4 M95.7,284.4 l0.2,1.6 M95.7,284.4 l-1.5,-0.7 M95.7,284.4 l1.3,-0.9 M104.7,282.0 l0.7,1.5 M104.7,282.0 l-1.6,-0.1 M104.7,282.0 l0.9,-1.3 M112.0,283.2 l0.9,1.3 M112.0,283.2 l-1.6,0.2 M112.0,283.2 l0.7,-1.5 M124.0,283.5 l1.5,0.4 M124.0,283.5 l-1.2,1.1 M124.0,283.5 l-0.4,-1.6 M131.5,285.3 l0.7,1.4 M131.5,285.3 l-1.6,-0.1 M131.5,285.3 l0.9,-1.3 M135.7,282.8 l1.1,1.2 M135.7,282.8 l-1.6,0.3 M135.7,282.8 l0.5,-1.5 M146.3,282.9 l-0.2,1.6 M146.3,282.9 l-1.3,-0.9 M146.3,282.9 l1.5,-0.6 M155.7,285.7 l-0.4,1.5 M155.7,285.7 l-1.1,-1.2 M155.7,285.7 l1.6,-0.4 M99.6,291.3 l1.6,0.3 M99.6,291.3 l-1.0,1.2 M99.6,291.3 l-0.6,-1.5 M112.0,292.0 l-0.0,1.6 M112.0,292.0 l-1.4,-0.8 M112.0,292.0 l1.4,-0.8 M116.4,289.2 l-0.2,1.6 M116.4,289.2 l-1.3,-1.0 M116.4,289.2 l1.5,-0.6 M126.5,291.5 l0.9,1.3 M126.5,291.5 l-1.6,0.1 M126.5,291.5 l0.7,-1.4 M135.5,290.4 l1.4,0.9 M135.5,290.4 l-1.4,0.7 M135.5,290.4 l0.1,-1.6 M141.3,290.2 l0.4,1.5 M141.3,290.2 l-1.5,-0.4 M141.3,290.2 l1.1,-1.1 M152.0,289.3 l1.6,0.2 M152.0,289.3 l-1.0,1.3 M152.0,289.3 l-0.6,-1.5 M158.1,291.7 l1.5,0.6 M158.1,291.7 l-1.3,1.0 M158.1,291.7 l-0.2,-1.6 M96.8,296.2 l1.6,0.1 M96.8,296.2 l-0.9,1.3 M96.8,296.2 l-0.7,-1.4 M106.0,298.7 l0.3,1.6 M106.0,298.7 l-1.5,-0.5 M106.0,298.7 l1.2,-1.1 M112.3,296.4 l-0.6,1.5 M112.3,296.4 l-1.0,-1.3 M112.3,296.4 l1.6,-0.2 M122.2,297.6 l0.2,1.6 M122.2,297.6 l-1.5,-0.6 M122.2,297.6 l1.3,-1.0 M131.1,298.1 l1.6,0.3 M131.1,298.1 l-1.0,1.2 M131.1,298.1 l-0.6,-1.5 M139.6,296.9 l1.6,0.1 M139.6,296.9 l-0.9,1.3 M139.6,296.9 l-0.7,-1.4 M145.3,298.1 l0.4,1.5 M145.3,298.1 l-1.5,-0.4 M145.3,298.1 l1.1,-1.1 M152.4,298.8 l0.8,1.4 M152.4,298.8 l-1.6,0.0 M152.4,298.8 l0.8,-1.4 M100.3,306.4 l-0.2,1.6 M100.3,306.4 l-1.3,-1.0 M100.3,306.4 l1.5,-0.6 M112.0,305.7 l1.4,0.7 M112.0,305.7 l-1.3,0.9 M112.0,305.7 l-0.1,-1.6 M119.4,306.6 l0.7,1.4 M119.4,306.6 l-1.6,-0.1 M119.4,306.6 l0.9,-1.3 M128.0,306.9 l1.1,1.2 M128.0,306.9 l-1.6,0.4 M128.0,306.9 l0.5,-1.5 M136.2,306.7 l-0.1,1.6 M136.2,306.7 l-1.3,-0.9 M136.2,306.7 l1.5,-0.7 M139.6,304.4 l0.5,1.5 M139.6,304.4 l-1.6,-0.4 M139.6,304.4 l1.1,-1.2 M150.5,306.0 l0.3,1.6 M150.5,306.0 l-1.5,-0.5 M150.5,306.0 l1.2,-1.1 M156.3,306.7 l0.7,1.4 M156.3,306.7 l-1.6,-0.1 M156.3,306.7 l0.9,-1.3 M99.9,310.8 l-0.8,1.4 M99.9,310.8 l-0.8,-1.4 M99.9,310.8 l1.6,-0.0 M106.3,313.1 l0.0,1.6 M106.3,313.1 l-1.4,-0.8 M106.3,313.1 l1.4,-0.8 M115.9,311.4 l1.6,0.3 M115.9,311.4 l-1.0,1.2 M115.9,311.4 l-0.5,-1.5 M121.5,310.7 l0.7,1.4 M121.5,310.7 l-1.6,-0.1 M121.5,310.7 l0.9,-1.3 M131.6,311.4 l1.5,0.4 M131.6,311.4 l-1.1,1.1 M131.6,311.4 l-0.4,-1.6 M135.6,311.7 l0.6,1.5 M135.6,311.7 l-1.6,-0.3 M135.6,311.7 l1.0,-1.2 M143.6,312.7 l1.4,0.7 M143.6,312.7 l-1.3,0.9 M143.6,312.7 l-0.1,-1.6 M152.0,313.7 l0.7,1.4 M152.0,313.7 l-1.6,-0.1 M152.0,313.7 l0.9,-1.3"/></g>
<!-- dashed lines from circle -->
<g stroke="#111" stroke-width="1.6" stroke-dasharray="6,4" fill="none">
 <path d="M82,238 L197,225.6"/>
 <path d="M80,254 L197,290.8"/>
</g>
<!-- arrows to lungs -->
<g stroke="#111" stroke-width="1.6" fill="none">
 <path d="M39.9,343.2 L51.2,319.5"/>
 <path d="M160.5,348.7 L149.5,325"/>
</g>
<g fill="#111">
 <path d="M53.5,312.6 L55.2,325.7 L50.6,321.6 L43.8,320.4Z"/>
 <path d="M146.6,318.3 L157,325.8 L151,326.3 L145,331Z"/>
</g>
<g style="font-size:15.5px" fill="#3a3a3a" stroke="#3a3a3a">
 <text x="9.8" y="357" textLength="47.5" lengthAdjust="spacingAndGlyphs">Smoker’</text><text x="66.7" y="357" textLength="32" lengthAdjust="spacingAndGlyphs">s lung</text>
 <text x="140.2" y="358.4" textLength="70" lengthAdjust="spacingAndGlyphs">Healthy lung</text>
</g>

<!-- ===== YELLOW BOX ===== -->
<rect x="242.5" y="27.5" width="85.5" height="159.5" fill="#f5ec00" stroke="#8a8aa0" stroke-width="1"/>
<g style="font-size:16.5px" fill="#2b2b1a" stroke="#2b2b1a">
  <text x="247" y="72.7">Drain</text>
  <text x="247" y="93" textLength="78.5" lengthAdjust="spacingAndGlyphs">pleural fluid</text>
  <text x="247" y="113.3">,ascites and</text>
  <text x="247" y="134.2">extract</text>
  <text x="247" y="154.5">tumor cells</text>
</g>


<!-- arrow box -> tube text -->
<g fill="none" stroke="#111" stroke-width="1.6">
 <path d="M326.4,94.8 L381,78.5"/>
 <path d="M308.6,239.7 L423,108"/>
 <path d="M308.6,270.9 L413,236"/>
</g>
<g fill="#111">
 <path d="M390.5,75 L376.6,72.4 L380.5,78.8 L382,85.2Z"/>
 <path d="M431,100 L418,105.5 L424,107 L428.8,113Z"/>
 <path d="M424.5,232 L411.5,228.5 L414.5,235 L415,241.5Z"/>
</g>
<g style="font-size:17.3px" fill="#3a3a3a" stroke="#3a3a3a">
 <text x="400" y="47.8" textLength="36" lengthAdjust="spacingAndGlyphs">Singel</text>
 <text x="400" y="68.5" textLength="63.5" lengthAdjust="spacingAndGlyphs">tumor cell</text>
 <text x="400" y="89.2" textLength="67.5" lengthAdjust="spacingAndGlyphs">suspension</text>
</g>
<!-- tube -->
<g stroke="#777" stroke-width="0.8">
 <path d="M470.5,31 L470.5,95 C470.5,100 481,100 481,95 L481,31Z" fill="#f2e27a"/>
 <rect x="470.5" y="31" width="10.5" height="31.7" fill="#b8d8e4"/>
 <rect x="469.8" y="26" width="12" height="5" fill="#a9b866" stroke="#8a9a50"/>
 <path d="M472,33 L479,33" stroke="#9ac060" stroke-width="1.2"/>
</g>
<!-- tapered curve tube->dots -->
<path d="M489.3,62.6 C530,65 571,83.5 590,119.5 C595,130.5 597,142 595.6,151.5 C594.2,142 592,132 588.2,121 C568.5,85.5 530,65.8 489.3,63.2Z" fill="#222"/>
<!-- curve diced -> dots -->
<path d="M503.3,200.7 C520,209 555,212 582.5,194.5" fill="none" stroke="#6a5a50" stroke-width="1.7"/>
<!-- dots -->
<g fill="#3d5ef0">
 <ellipse cx="603.6" cy="158.7" rx="6.5" ry="5.6"/>
 <ellipse cx="618.2" cy="156.2" rx="6.6" ry="5.8"/>
 <ellipse cx="595.6" cy="165" rx="5.6" ry="5.6"/>
 <ellipse cx="582.5" cy="174.3" rx="4.5" ry="5.8"/>
 <ellipse cx="601.2" cy="177.4" rx="5.6" ry="5.6"/>
 <ellipse cx="613.6" cy="179" rx="5.5" ry="5.8"/>
 <ellipse cx="591.8" cy="186" rx="5.6" ry="5.6"/>
 <ellipse cx="602.7" cy="197.6" rx="4.5" ry="5.5"/>
</g>
<!-- In vitro arrow -->
<path d="M625.5,133.5 C633,117 643,104 655,96 C672,86 695,79 717,73.5 L695.9,62.4 L747.5,74.8 L704,98.7 L719,80 C696,84 674,91 657,100 C645,107 633,119 625.5,133.5Z" fill="#231815"/>
<g style="font-size:29px" fill="#2a2a2a">
 <text x="724.6" y="40.7" textLength="64.5" lengthAdjust="spacingAndGlyphs">In vitro</text>
</g>
<g style="font-size:19.5px" fill="#333" stroke="#333">
 <text x="720.3" y="110.6" textLength="178.5" lengthAdjust="spacingAndGlyphs">Patient-derived cells culture</text>
</g>

<!-- ===== IN SITU BOX ===== -->
<g clip-path="url(#insitu)">
<path d="M198.5,238.5 L307.5,238.5 L307.5,288 L198.5,288Z" fill="#a87a34"/>
<use href="#ycell" x="198.4" y="243.5"/>
<use href="#ycell" x="208.2" y="243.5"/>
<use href="#ycell" x="217.9" y="243.5"/>
<use href="#ycell" x="286.1" y="243.5"/>
<use href="#ycell" x="295.9" y="243.5"/>
<use href="#ycell" x="305.6" y="243.5"/>
<use href="#ycell" x="201.0" y="253.2"/>
<use href="#ycell" x="210.8" y="253.2"/>
<use href="#ycell" x="220.5" y="253.2"/>
<use href="#ycell" x="230.2" y="253.2"/>
<use href="#ycell" x="269.2" y="253.2"/>
<use href="#ycell" x="279.0" y="253.2"/>
<use href="#ycell" x="288.8" y="253.2"/>
<use href="#ycell" x="298.5" y="253.2"/>
<use href="#ycell" x="308.2" y="253.2"/>
<use href="#ycell" x="203.6" y="262.9"/>
<use href="#ycell" x="213.3" y="262.9"/>
<use href="#ycell" x="223.1" y="262.9"/>
<use href="#ycell" x="271.9" y="262.9"/>
<use href="#ycell" x="281.6" y="262.9"/>
<use href="#ycell" x="291.4" y="262.9"/>
<use href="#ycell" x="301.1" y="262.9"/>
<use href="#ycell" x="199.0" y="272.6"/>
<use href="#ycell" x="208.8" y="272.6"/>
<use href="#ycell" x="218.5" y="272.6"/>
<use href="#ycell" x="228.2" y="272.6"/>
<use href="#ycell" x="238.0" y="272.6"/>
<use href="#ycell" x="267.2" y="272.6"/>
<use href="#ycell" x="277.0" y="272.6"/>
<use href="#ycell" x="286.8" y="272.6"/>
<use href="#ycell" x="296.5" y="272.6"/>
<use href="#ycell" x="306.2" y="272.6"/>
<use href="#ycell" x="204.4" y="282.3"/>
<use href="#ycell" x="214.2" y="282.3"/>
<use href="#ycell" x="223.9" y="282.3"/>
<use href="#ycell" x="233.7" y="282.3"/>
<use href="#ycell" x="243.4" y="282.3"/>
<use href="#ycell" x="253.2" y="282.3"/>
<use href="#ycell" x="262.9" y="282.3"/>
<use href="#ycell" x="272.6" y="282.3"/>
<use href="#ycell" x="282.4" y="282.3"/>
<use href="#ycell" x="292.1" y="282.3"/>
<use href="#ycell" x="301.9" y="282.3"/>
<use href="#scell" transform="translate(232,256) scale(0.78)"/>
<use href="#scell" transform="translate(232.7,265.5) scale(0.78)"/>
<use href="#scell" transform="translate(257.1,232.9) scale(0.78)"/>
<use href="#scell" transform="translate(278.2,232.9) scale(0.78)"/>
<use href="#scell" transform="translate(230,243.7) scale(0.78)"/>
<use href="#scell" transform="translate(241.5,247.8) scale(0.78)"/>
<use href="#scell" transform="translate(254.4,244.4) scale(0.78)"/>
<use href="#scell" transform="translate(263.2,249.2) scale(0.78)"/>
<use href="#scell" transform="translate(272.7,243.1) scale(0.78)"/>
<use href="#scell" transform="translate(251,256.6) scale(0.78)"/>
<use href="#scell" transform="translate(240.8,263.4) scale(0.78)"/>
<use href="#scell" transform="translate(261.9,262.1) scale(0.78)"/>
<use href="#scell" transform="translate(249.6,269.6) scale(0.78)"/>
<use href="#scell" transform="translate(257.1,273) scale(0.78)"/>
<rect x="198.4" y="287.8" width="109.2" height="3" fill="#9676b6"/>
</g>
<rect x="197.4" y="225.7" width="111" height="66" fill="none" stroke="#111" stroke-width="1.7"/>
<g style="font-size:19.5px" fill="#333"><text x="227.4" y="318.2" textLength="97.6" lengthAdjust="spacingAndGlyphs">In situ cancer</text></g>

<!-- ===== DICED TISSUES ===== -->
<use href="#tcell" transform="translate(472,180) scale(0.66,0.62) rotate(8)" stroke-width="1.5"/>
<use href="#tcell" transform="translate(442,216) scale(0.66,0.62) rotate(-10)" stroke-width="1.5"/>
<use href="#tcell" transform="translate(465.5,216) scale(0.7,0.66) rotate(15)" stroke-width="1.5"/>
<use href="#tcell" transform="translate(446.3,188.5) scale(0.74,0.71) rotate(-5)" stroke-width="1.5"/>
<use href="#tcell" transform="translate(482.6,198) scale(0.74,0.68) rotate(20)" stroke-width="1.5"/>
<g style="font-size:15.8px" fill="#3a3a3a" stroke="#3a3a3a"><text x="422.8" y="254.7" textLength="77" lengthAdjust="spacingAndGlyphs">Diced tissues</text></g>
<!-- connector diced -> stromal -->
<path d="M452.6,257 C444,262 441,272 445,284 C448,291 452,295 456,297.7" fill="none" stroke="#555" stroke-width="1"/>
<!-- ===== STROMAL CELLS ===== -->
<g id="stromal">
 <!-- collagen -->
 <g stroke-linecap="butt" fill="none">
  <path d="M520.2,288 C535,285 552,283 569.7,282.6" stroke="#6aa050" stroke-width="4"/>
  <path d="M520.2,288 C535,285 552,283 569.7,282.6" stroke="#b03a78" stroke-width="4" stroke-dasharray="2.6,2.4"/>
  <path d="M530.9,316.6 C540,317 548,318.5 556.1,320.5" stroke="#6aa050" stroke-width="3.6"/>
  <path d="M530.9,316.6 C540,317 548,318.5 556.1,320.5" stroke="#b03a78" stroke-width="3.6" stroke-dasharray="2.6,2.4"/>
  <path d="M428.9,322.5 C435,321 441,320 448.3,319.5" stroke="#6aa050" stroke-width="3.2"/>
  <path d="M463.9,334.1 C470,333.5 477,332.8 483.3,332.2" stroke="#6aa050" stroke-width="3.4"/>
  <path d="M463.9,334.1 C470,333.5 477,332.8 483.3,332.2" stroke="#b03a78" stroke-width="3.4" stroke-dasharray="2.6,2.4"/>
  <path d="M446,341 L452,339" stroke="#6aa050" stroke-width="2.5"/>
 </g>
 <!-- fibroblast top -->
 <path d="M502.7,272.9 C507,276 509,281 510,284 C513,286 516,287 518,289 L500,292 C503,289 507,287 508,285 C507,281 505,276 502.7,272.9Z" fill="#e0457f" stroke="#6a1a40" stroke-width="0.6"/>
 <!-- fibroblast mid -->
 <path d="M465.8,291.4 C470,292 474,296 476,300 C479,296 482,292 483.5,288 C484,294 486,299 490,302 C495,307 497,316 495,326 L481,331 C474,324 469,317 467,309 C465,302 469,296 465.8,291.4Z" fill="#e0457f" stroke="#6a1a40" stroke-width="0.6"/>
 <path d="M470,298 C476,302 484,310 490,320 C486,322 480,318 474,312 C470,306 469,302 470,298Z" fill="#f4a8c8" opacity="0.85"/>
 <ellipse cx="482.3" cy="306" rx="8.5" ry="4.6" transform="rotate(15 482.3 306)" fill="#7a1f78" stroke="#3a0a40" stroke-width="0.6"/>
 <!-- endothelial E3 -->
 <rect x="447.3" y="307.9" width="34" height="20.4" rx="3" fill="#f6cfd8" stroke="#4a4a4a" stroke-width="0.7"/>
 <path d="M449,325 L479,325 C480,325 480.5,323 480.5,321 L480.5,313 C480,318 475,324 449,325Z" fill="#e898b0"/>
 <ellipse cx="472.6" cy="319.5" rx="6.4" ry="5.4" fill="#7466b0" stroke="#3a3070" stroke-width="0.6"/>
 <ellipse cx="470.8" cy="317.6" rx="2.2" ry="1.3" fill="#cfc6f0"/>
 <!-- fibroblast left -->
 <path d="M434.7,310.8 C440,312 444,313 448,316 C450,318 452,319 455,320 C460,324 466,332 469,344 C466,347 461,346 457,342 C453,344 451,347 449.5,350 C447.5,346 446.5,342 445,338 C440,332 436,324 438,317 C437,315 436,312.5 434.7,310.8Z" fill="#e0457f" stroke="#6a1a40" stroke-width="0.6"/>
 <path d="M440,318 C446,326 454,334 463,340 C458,344 450,342 445,336 C441,330 439,324 440,318Z" fill="#f4a8c8" opacity="0.85"/>
 <ellipse cx="452.2" cy="325.4" rx="8.5" ry="4.5" transform="rotate(15 452.2 325.4)" fill="#7a1f78" stroke="#3a0a40" stroke-width="0.6"/>
 <!-- fibroblast bottom -->
 <path d="M478,330 C490,327 505,329 512,334 C516,339 515,346 511,351 C514,352 516,349 516.5,345 C518,352 515,357 509,356 C504,355 500,357 496,360 C493,363 491,365 490,366 C489,361 490,357 488,353 C483,352 476,350 467.5,350 C473,347 478,344 480,338 C480,335 479,332 478,330Z" fill="#e23c7c" stroke="#6a1a40" stroke-width="0.6"/>
 <path d="M483,341 C491,337 502,339 508,345 C502,350 492,352 486,350Z" fill="#f4a8c8" opacity="0.85"/>
 <ellipse cx="496.5" cy="334.5" rx="7.5" ry="3.8" transform="rotate(10 496.5 334.5)" fill="#7a1f78" stroke="#3a0a40" stroke-width="0.6"/>
 <!-- endothelial E1, E2 -->
 <g stroke="#4a4a4a" stroke-width="0.7">
  <rect x="491.1" y="288.5" width="49.5" height="21.3" rx="3.2" fill="#f6cfd8"/>
  <rect x="495.9" y="310.8" width="35" height="21.4" rx="3.2" fill="#f6cfd8"/>
 </g>
 <g fill="#e898b0">
  <path d="M493,306 L538,306 C539,306 539.8,304 539.8,302 L539.8,293 C539,299 532,305 493,306Z"/>
  <path d="M497.5,329 L528.5,329 C529.5,329 530.2,327 530.2,325 L530.2,315 C529.5,321 523,328 497.5,329Z"/>
 </g>
 <g fill="#7466b0" stroke="#3a3070" stroke-width="0.6">
  <ellipse cx="516.3" cy="299.1" rx="6.5" ry="5.5"/>
  <ellipse cx="506.6" cy="321.5" rx="6.4" ry="5.4"/>
 </g>
 <g fill="#cfc6f0">
  <ellipse cx="514.5" cy="297.2" rx="2.2" ry="1.3"/>
  <ellipse cx="504.8" cy="319.6" rx="2.2" ry="1.3"/>
 </g>
</g>
<g style="font-size:16.3px" fill="#3a3a3a" stroke="#3a3a3a">
 <text x="342.3" y="343.1" textLength="101.9" lengthAdjust="spacingAndGlyphs">Patient-derived</text>
 <text x="342.3" y="363.4" textLength="81" lengthAdjust="spacingAndGlyphs">stromal cells</text>
</g>
<!-- gray arrow stromal -> subcutaneous -->
<path d="M555.8,312.6 L602.9,314.3 L597.6,298.7 L613.1,318.2 L593.7,334.7 L602.4,321 L556,313.6Z" fill="#757575"/>
<!-- brown arrow dots -> subcutaneous -->
<path d="M619.6,195.3 C626,225 638,255 658,279.6 L637.7,280.7 L677.2,297.7 L668,260.4 L664.4,277.5 C646,253 628,225 619.6,195.3Z" fill="#857568"/>
<!-- black arrow dots -> tail vein -->
<path d="M626,172 L758,287 L750.9,261.1 C758,280 772,302 788.3,321.3 C768,311 745,298 726.2,288.3 L754,294 Z" fill="#231815"/>
<g style="font-size:16.8px" fill="#3a3a3a" stroke="#3a3a3a">
 <text x="625" y="317" textLength="93.5" lengthAdjust="spacingAndGlyphs">Subcutaneous</text>
 <text x="625" y="337.1" textLength="99.5" lengthAdjust="spacingAndGlyphs">transplantation</text>
</g>
<g style="font-size:16px" fill="#3a3a3a" stroke="#3a3a3a">
 <text x="785.7" y="342.8" textLength="55.4" lengthAdjust="spacingAndGlyphs">Tail vein</text>
 <text x="785.7" y="362.8" textLength="56.7" lengthAdjust="spacingAndGlyphs">injection</text>
</g>
<g style="font-size:32.5px" fill="#2a2a2a">
 <text x="721" y="440" textLength="65.4" lengthAdjust="spacingAndGlyphs">In vivo</text>
</g>


<!-- ===== MOUSE ===== -->
<!-- tail -->
<path d="M786,393 C795,393 802,394 810,398 C818,403 828,405.5 846,404.5 C858,403 866,398 874,397.2 C880,397 884,398.5 886,400.5 C880,400 874,400.5 868,402.5 C858,407 848,410 832,410 C820,409.5 812,406 804,402.5 C798,400 792,400 786,400Z" fill="#ead6bd" stroke="#6a6a6a" stroke-width="0.7"/>
<!-- body -->
<path d="M672.6,406.9 C672.6,404.4 677.5,399.3 679.6,395.2 C681.7,391.1 684.1,386.3 685.4,382.4 C686.7,378.5 687.1,374.9 687.3,372 C687.5,369.1 686.5,366.9 686.8,365 C687.1,363.1 688,360.5 688.9,360.3 C689.8,360.1 691.5,362.5 692.4,363.8 C693.2,365.1 691.9,368.6 694,368 C696.1,367.4 701.4,362.9 705.2,360.3 C709,357.7 712.2,354.5 716.9,352.1 C721.6,349.7 727.4,346.8 733.2,345.8 C739,344.8 745.6,344.7 751.8,346.3 C758,347.9 765,351 770.4,355.6 C775.8,360.2 781.3,368.4 784.4,374.2 C787.5,380 788.4,385.4 789,390.5 C789.6,395.6 789.4,401.7 787.9,404.5 C786.4,407.3 784.2,406.7 779.7,407.5 C775.2,408.3 767.3,409 761.1,409.5 C754.9,410 749.1,410.5 742.5,410.5 C735.9,410.5 727.3,409.7 721.5,409.5 C715.7,409.3 712.5,409.4 707.5,409.5 C702.5,409.6 695.9,410.2 691.2,410.3 C686.6,410.4 682.7,410.9 679.6,410.3 C676.5,409.7 672.6,409.4 672.6,406.9Z" fill="#f6f6f6" stroke="#606060" stroke-width="0.8"/>
<path d="M690,410 l2,-3 l2,3 l2,-3 l2,3 l2,-3 l2,3 M760,409.5 l2,-3 l2,3 l2,-3 l2,3 l2,-3 l2,3 l2,-3 l2,3" fill="none" stroke="#8a8a8a" stroke-width="0.5"/>
<path d="M705,409 C709,408 716,408 720,410 L716,412 C712,412.5 708,412 705,409Z" fill="#ead6bd" stroke="#8a8a8a" stroke-width="0.5"/>
<path d="M742,409.5 C747,408 754,409 758,410 L752,412.5 C748,413 744,412.5 742,409.5Z" fill="#ead6bd" stroke="#8a8a8a" stroke-width="0.5"/>
<path d="M756.4,366.1 C748,368 740,372 737.8,380 C737,388 738,398 740,408" fill="none" stroke="#7a7a7a" stroke-width="0.6"/>
<path d="M710,389 C708,394 707,398 706.4,402.2" fill="none" stroke="#8a8a8a" stroke-width="0.5"/>
<!-- ear -->
<ellipse cx="707.5" cy="378" rx="6" ry="8" transform="rotate(15 707.5 378)" fill="#f6f6f6" stroke="#6a6a6a" stroke-width="0.7"/>
<ellipse cx="708.5" cy="379" rx="3.6" ry="5.5" transform="rotate(15 708.5 379)" fill="#e0e0e0"/>
<!-- lungs -->
<path d="M719.5,371.7 C722.5,372 724,380 724,390 C724,397 723,401 719.5,401.2 C716,401 714.2,398 714.2,390 C714.2,380 716,372 719.5,371.7Z" fill="#ddacba" stroke="#9a6a7a" stroke-width="0.6"/>
<path d="M729.5,370.2 C733,370.5 735,380 735,390 C735,397 733.5,400.5 730,400.5 C726.5,400.5 725,397 725,390 C725,380 726.5,370.5 729.5,370.2Z" fill="#ddacba" stroke="#9a6a7a" stroke-width="0.6"/>
<path d="M719,378 L719,395 M730,378 L730,395 M716,388 L723,386 M727,387 L734,389" stroke="#c898a8" stroke-width="0.5"/>
<circle cx="689.6" cy="392.9" r="1.9" fill="#444"/><circle cx="689.6" cy="392.9" r="0.8" fill="#888"/>
<!-- whiskers -->
<g fill="none" stroke="#666" stroke-width="0.6">
 <path d="M675,403 C669,396 663,390 657.5,385.9 M675,404 C669,399 663,395 658.6,391.7 M675,405.5 C671,402 667,399.5 663.3,397.5"/>
 <path d="M678,409 C681,414 683,419 681.9,423.2 M679,409 C683,414 686,420 686.6,425.5"/>
</g>
<!-- dashed arrow -->
<path d="M790,398 L740,389.5" fill="none" stroke="#111" stroke-width="1.5" stroke-dasharray="5,3"/>
<path d="M735.5,389.4 L742,384 M735.5,389.4 L741,394.5" fill="none" stroke="#111" stroke-width="1.4"/>
<path d="M790,397.5 L829,405" fill="none" stroke="#111" stroke-width="1.5" stroke-dasharray="5,3"/>
<!-- needle -->
<path d="M706,280 L710.5,278 L735,343 L731,345Z" fill="#fff" stroke="#333" stroke-width="0.7"/>
<!-- ===== SYRINGE ===== -->
<g transform="translate(857,346.3) rotate(25)">
 <path d="M0,40 L0,66" stroke="#4a4a98" stroke-width="0.9"/>
 <rect x="-5.6" y="2" width="11.2" height="37" fill="#f7f9fd" stroke="#55558a" stroke-width="0.7"/>
 <rect x="-4.9" y="3" width="9.8" height="8" fill="#7a7abe"/>
 <rect x="-4.9" y="11" width="9.8" height="1.5" fill="#b0b0dc"/>
 <g stroke="#9a9ac8" stroke-width="0.5"><path d="M-4.5,16 L0,16 M-4.5,20 L0,20 M-4.5,24 L0,24 M-4.5,28 L0,28 M-4.5,32 L0,32 M-4.5,36 L0,36"/></g>
 <rect x="-2.3" y="39" width="4.6" height="2.8" fill="#4a4a98"/>
 <ellipse cx="0" cy="0" rx="10.5" ry="3.4" fill="#9c9ad2" stroke="#55558a" stroke-width="0.7"/>
 <rect x="-2.8" y="-8" width="5.6" height="7" fill="#e4e4f4" stroke="#55558a" stroke-width="0.6"/>
 <ellipse cx="0" cy="-8.5" rx="7.2" ry="2.7" fill="#9c9ad2" stroke="#55558a" stroke-width="0.7"/>
</g>
<!-- ===== PETRI DISH ===== -->
<g>
 <ellipse cx="861.5" cy="48.5" rx="29.5" ry="18.5" transform="rotate(48 861.5 48.5)" fill="#f4fafc" stroke="#7a8a90" stroke-width="0.8"/>
 <ellipse cx="862" cy="47.5" rx="25.5" ry="14.5" transform="rotate(48 862 47.5)" fill="#cfe8f3" stroke="#a8cedd" stroke-width="0.6"/>
 <path d="M789.3,55 L789.3,66 C789.3,73 802,77.3 816.5,77.3 C831,77.3 843.7,73 843.7,66 L843.7,55Z" fill="#f2d78a" stroke="#7a7a70" stroke-width="0.8"/>
 <g stroke="#fff4d0" stroke-width="1"><path d="M795,64 L795,72 M803,67 L803,75 M811,68 L811,76.5 M826,68 L826,76.5 M835,66 L835,74"/></g>
 <ellipse cx="816.5" cy="55" rx="27.2" ry="15.5" fill="#dde8ea" stroke="#7a7a70" stroke-width="0.8"/>
 <ellipse cx="816.5" cy="56.5" rx="24" ry="12.5" fill="#f8ecb4" stroke="#d8c080" stroke-width="0.6"/>
 <g fill="#3d5ef0">
  <circle cx="809.5" cy="54.9" r="6.3"/><circle cx="821.9" cy="49.5" r="6.3"/><circle cx="829.8" cy="55.5" r="6.3"/><circle cx="817.6" cy="59.4" r="6.3"/>
 </g>
</g>
<!-- ===== LEGEND BOX ===== -->
<rect x="2.5" y="367.5" width="619" height="146.5" fill="none" stroke="#666" stroke-width="1.2"/>


<!-- legend items -->
<use href="#tcell" transform="translate(26,409.5)" stroke-width="0.9"/>
<g>
 <ellipse cx="26.3" cy="477" rx="20" ry="25.4" fill="#f2b540" stroke="#7a5a20" stroke-width="0.8"/>
 <ellipse cx="24.5" cy="475.5" rx="16.5" ry="22.5" fill="#f8d584"/>
 <path d="M12,462 C10,475 14,490 22,495" fill="none" stroke="#fff" stroke-width="1.5" opacity="0.8"/>
 <ellipse cx="26" cy="476.5" rx="10.8" ry="13" fill="#f9e2a0"/>
 <ellipse cx="26" cy="476.5" rx="9.6" ry="11.8" fill="#1b96b8" stroke="#127a98" stroke-width="0.5"/>
 <path d="M18.5,474 C18.5,469 21,466 25.5,465.2" fill="none" stroke="#a8e4f2" stroke-width="1.8"/>
</g>
<ellipse cx="201.4" cy="410.3" rx="6.8" ry="6" fill="#3d5ef0"/>
<use href="#endo" transform="translate(204.5,473.5) scale(1.0,1.14)"/>
<use href="#collagen" transform="translate(376.8,402.2)"/>
<use href="#fibro" transform="translate(400,476)"/>
<g style="font-size:17px" fill="#3a3a3a" stroke="#3a3a3a">
 <text x="241.7" y="412.9" textLength="53.5" lengthAdjust="spacingAndGlyphs">Matrigel</text>
 <text x="241.7" y="474.2" textLength="98.6" lengthAdjust="spacingAndGlyphs">Endothelial cell</text>
 <text x="464.6" y="411.3" textLength="57.3" lengthAdjust="spacingAndGlyphs">Collagen</text>
 <text x="465" y="467.6" textLength="63.8" lengthAdjust="spacingAndGlyphs">Fibroblast</text>
</g>

<g style="font-size:19.5px" fill="#3a3a3a" stroke="#3a3a3a">
 <text x="64.8" y="412.9" textLength="70.6" lengthAdjust="spacingAndGlyphs">Tumor cell</text>
 <text x="67.6" y="476.6" textLength="75" lengthAdjust="spacingAndGlyphs">Normal cell</text>
</g>
</svg>
</body></html>
